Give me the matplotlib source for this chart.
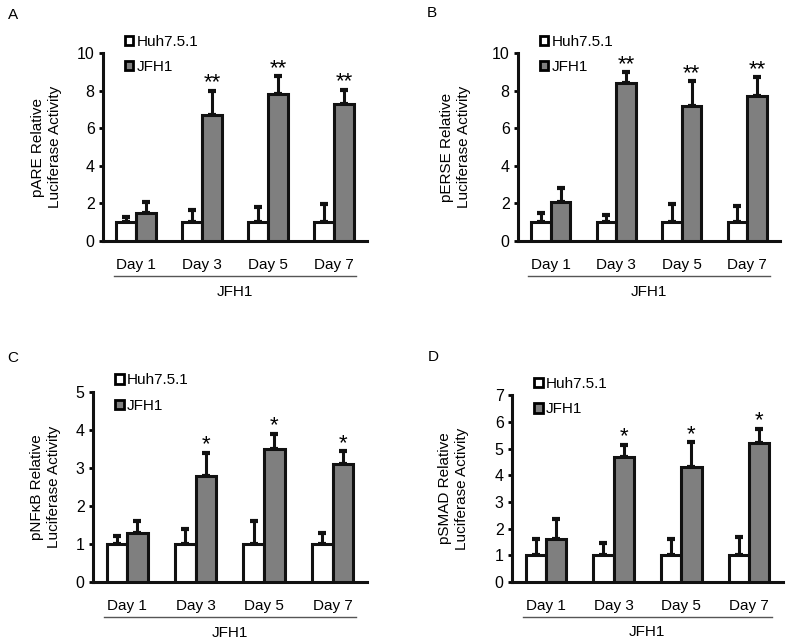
import numpy as np
import matplotlib
matplotlib.use("Agg")
import matplotlib.pyplot as plt
from matplotlib.patches import Patch
import matplotlib.transforms as mtransforms

plt.rcParams['font.family'] = ['Liberation Sans', 'DejaVu Sans']
plt.rcParams['font.size'] = 11

days = ["Day 1", "Day 3", "Day 5", "Day 7"]
series_names = ["Huh7.5.1", "JFH1"]

# panel A - pARE
a_huh = [1.0, 1.0, 1.0, 1.0]
a_huh_err = [0.3, 0.65, 0.8, 0.95]
a_jfh = [1.5, 6.7, 7.8, 7.3]
a_jfh_err = [0.6, 1.3, 0.95, 0.75]
a_stars = ["", "**", "**", "**"]

# panel B - pERSE
b_huh = [1.0, 1.0, 1.0, 1.0]
b_huh_err = [0.5, 0.4, 0.95, 0.85]
b_jfh = [2.1, 8.4, 7.2, 7.7]
b_jfh_err = [0.7, 0.6, 1.3, 1.0]
b_stars = ["", "**", "**", "**"]

# panel C - pNFkB
c_huh = [1.0, 1.0, 1.0, 1.0]
c_huh_err = [0.2, 0.4, 0.6, 0.3]
c_jfh = [1.3, 2.8, 3.5, 3.1]
c_jfh_err = [0.3, 0.6, 0.4, 0.35]
c_stars = ["", "*", "*", "*"]

# panel D - pSMAD
d_huh = [1.0, 1.0, 1.0, 1.0]
d_huh_err = [0.6, 0.45, 0.6, 0.7]
d_jfh = [1.6, 4.7, 4.3, 5.2]
d_jfh_err = [0.75, 0.45, 0.95, 0.55]
d_stars = ["", "*", "*", "*"]

panels = [
    ("A", "pARE Relative\nLuciferase Activity", a_huh, a_huh_err, a_jfh, a_jfh_err, a_stars, 10, 2,
     [0.1309, 0.6234, 0.3354, 0.2938], -0.155, (8, 15)),
    ("B", "pERSE Relative\nLuciferase Activity", b_huh, b_huh_err, b_jfh, b_jfh_err, b_stars, 10, 2,
     [0.6582, 0.6234, 0.3330, 0.2938], -0.18, (427, 13)),
    ("C", "pNFκB Relative\nLuciferase Activity", c_huh, c_huh_err, c_jfh, c_jfh_err, c_stars, 5, 1,
     [0.1180, 0.0906, 0.3480, 0.2970], -0.117, (7, 358)),
    ("D", "pSMAD Relative\nLuciferase Activity", d_huh, d_huh_err, d_jfh, d_jfh_err, d_stars, 7, 1,
     [0.6506, 0.0906, 0.3440, 0.2920], -0.159, (428, 357)),
]

W, H = 787, 640
fig = plt.figure(figsize=(W / 100, H / 100), dpi=100)

x = np.arange(len(days))
bw = 0.3
gray = "#7f7f7f"

for letter, ylab, huh, huh_err, jfh, jfh_err, stars, ymax, ystep, rect, labx, lpos in panels:
    ax = fig.add_axes(rect)
    ax.bar(x - bw / 2, huh, bw, color="white", edgecolor="#111111", linewidth=2.2, zorder=3)
    ax.bar(x + bw / 2, jfh, bw, color=gray, edgecolor="#111111", linewidth=2.2, zorder=3)
    ax.errorbar(x - bw / 2, huh, yerr=[np.zeros(4), huh_err], fmt="none", ecolor="#111111",
                elinewidth=2.2, capsize=3, capthick=3, zorder=2)
    ax.errorbar(x + bw / 2, jfh, yerr=[np.zeros(4), jfh_err], fmt="none", ecolor="#111111",
                elinewidth=2.2, capsize=3, capthick=3, zorder=2)
    for i, s in enumerate(stars):
        if s:
            ax.annotate(s, (x[i] + bw / 2, jfh[i] + jfh_err[i]), xytext=(0, 1.5),
                        textcoords="offset points", ha="center", va="baseline", fontsize=16)

    ax.set_xlim(-0.5, 3.5)
    ax.set_ylim(0, ymax)
    ax.set_yticks(np.arange(0, ymax + 0.01, ystep))
    ax.set_xticks(x)
    ax.set_xticklabels(days)
    ax.tick_params(axis="x", length=0, pad=12)
    ax.tick_params(axis="y", length=3, width=2, pad=3, labelsize=11.5)
    for sp in ["top", "right"]:
        ax.spines[sp].set_visible(False)
    for sp in ["left", "bottom"]:
        ax.spines[sp].set_linewidth(2.2)
        ax.spines[sp].set_color("#111111")

    ax.set_ylabel(ylab, fontsize=11, linespacing=1.25)
    ax.yaxis.set_label_coords(labx, 0.5)

    handles = [Patch(facecolor="white", edgecolor="black", linewidth=2),
               Patch(facecolor=gray, edgecolor="black", linewidth=2)]
    ax.legend(handles, series_names, loc="upper left", bbox_to_anchor=(0.06, 1.13),
              frameon=False, handlelength=0.55, handleheight=0.55, handletextpad=0.2,
              labelspacing=0.75, borderaxespad=0, fontsize=11)

    trans = mtransforms.blended_transform_factory(ax.transData, ax.transAxes)
    x0 = x[0] - bw - 0.04
    x1 = x[-1] + bw + 0.04
    ax.plot([x0, x1], [-0.185, -0.185], color="#555555", lw=1, transform=trans, clip_on=False)
    ax.text((x0 + x1) / 2, -0.27, "JFH1", transform=trans, ha="center", va="center", fontsize=11)

    fig.text(lpos[0] / W, 1 - lpos[1] / H, letter, ha="left", va="center", fontsize=11)

fig.savefig("out.png", dpi=100)
